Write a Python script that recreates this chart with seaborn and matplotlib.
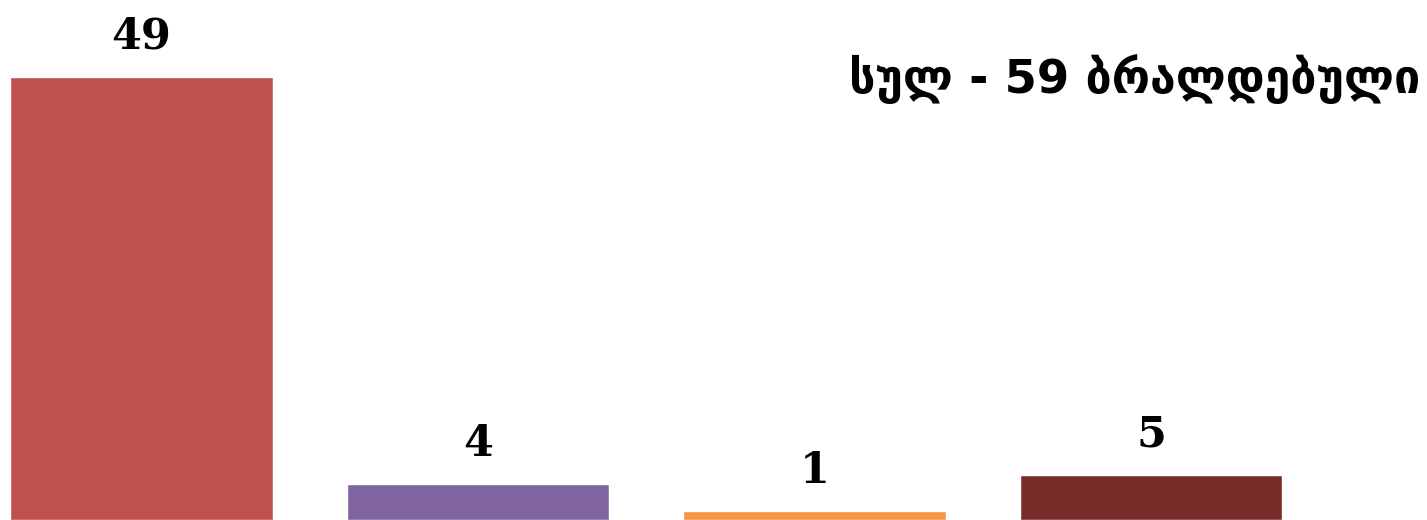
import seaborn as sns
import pandas as pd
import matplotlib.pyplot as plt

# bar values and colours
categories = ["a", "b", "c", "d"]
counts = [49, 4, 1, 5]
colors = ["#C0504D", "#8064A2", "#F79646", "#772C2A"]
total_label = "სულ - 59 ბრალდებული"

df = pd.DataFrame({"cat": categories, "count": counts})

sns.set_style("white")
fig, ax = plt.subplots(figsize=(14.27, 5.2), dpi=100)
fig.subplots_adjust(left=0, right=1, bottom=0, top=1)

plot = sns.barplot(data=df, x="cat", y="count", hue="cat", palette=colors,
                   width=0.78, legend=False, saturation=1, ax=ax)

for i, v in enumerate(counts):
    ax.text(i, v + 2.1, str(v), ha="center", va="bottom", color="black",
            fontsize=31, fontweight="bold", family="DejaVu Serif")

ax.text(3.80, 48.8, total_label, ha="right", va="center", color="black",
        fontsize=33.5, fontweight="bold", family=["DejaVu Sans"])

ax.set(xlim=(-0.42, 3.82), ylim=(0, 57.5), xlabel="", ylabel="")
ax.set_xticks([])
ax.set_yticks([])
sns.despine(ax=ax, left=True, bottom=True)

plt.savefig("out.png", dpi=100)
